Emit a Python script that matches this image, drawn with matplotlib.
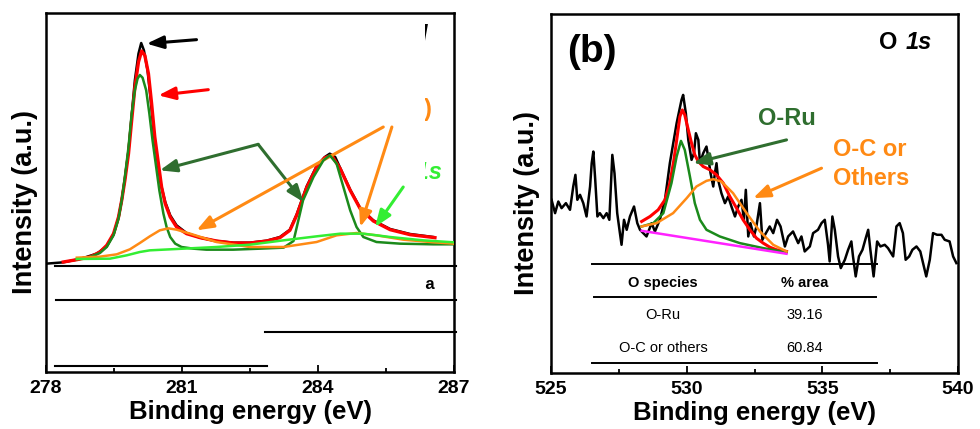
import matplotlib
matplotlib.use("Agg")
import matplotlib.pyplot as plt
from matplotlib.transforms import Bbox, TransformedBbox

plt.rcParams['font.family'] = ['Liberation Sans', 'DejaVu Sans']

# ---------------- panel (a): Ru 3d / C 1s ----------------
ru_raw_x = [278.00, 278.38, 278.75, 279.12, 279.34, 279.49, 279.60, 279.67, 279.74, 279.82,
            279.89, 279.96, 280.04, 280.10, 280.16, 280.24, 280.31, 280.38, 280.46, 280.53,
            280.63, 280.74, 280.88, 281.10, 281.40, 281.76, 282.13, 282.50, 282.87, 283.16,
            283.38, 283.53, 283.75, 283.97, 284.15, 284.26, 284.38, 284.49, 284.71, 284.93,
            285.22, 285.59, 286.03, 286.54]
ru_raw_y = [325, 329, 339, 355, 377, 413, 463, 515, 580, 665,
            770, 875, 955, 987, 965, 905, 815, 715, 635, 565,
            510, 470, 440, 417, 403, 393, 388, 388, 394, 405,
            427, 473, 557, 618, 645, 655, 645, 612, 547, 492,
            455, 429, 414, 405]

ru_fit_x = [278.38, 278.68, 278.97, 279.19, 279.34, 279.49, 279.60, 279.67, 279.74, 279.82,
            279.89, 279.96, 280.04, 280.11, 280.18, 280.26, 280.33, 280.40, 280.48, 280.55,
            280.63, 280.74, 280.88, 281.10, 281.40, 281.76, 282.13, 282.50, 282.87, 283.16,
            283.38, 283.53, 283.75, 283.97, 284.15, 284.30, 284.49, 284.71, 284.93, 285.22,
            285.59, 286.03, 286.58]
ru_fit_y = [330, 337, 345, 360, 380, 415, 465, 515, 575, 655,
            755, 853, 930, 963, 950, 895, 805, 705, 625, 555,
            505, 465, 435, 415, 403, 393, 387, 387, 393, 403,
            425, 470, 553, 615, 643, 650, 610, 545, 490, 453,
            427, 412, 403]

ru_metal_x = [278.68, 278.97, 279.19, 279.34, 279.49, 279.60, 279.67, 279.74, 279.82, 279.89,
              279.96, 280.02, 280.07, 280.13, 280.21, 280.28, 280.35, 280.43, 280.50, 280.59,
              280.66, 280.74, 280.85, 280.99, 281.25, 281.54, 282.13, 282.72, 283.24, 283.46,
              283.67, 283.90, 284.12, 284.26, 284.41, 284.56, 284.71, 284.85, 285.00, 285.29,
              285.81, 286.54, 287.00]
ru_metal_y = [339, 345, 357, 375, 410, 460, 515, 585, 675, 775,
              845, 880, 891, 883, 845, 775, 695, 615, 545, 475,
              435, 405, 385, 375, 370, 367, 367, 370, 373, 393,
              515, 585, 635, 650, 625, 555, 485, 435, 405, 390,
              385, 383, 383]

ru_oxide_x = [278.68, 279.19, 279.56, 279.85, 280.07, 280.29, 280.51, 280.70, 280.88, 281.18,
              281.76, 282.50, 283.24, 283.97, 284.41, 284.85, 285.29, 285.88, 286.47, 287.00]
ru_oxide_y = [343, 346, 353, 368, 387, 407, 425, 431, 427, 415,
              390, 375, 375, 390, 410, 417, 410, 397, 390, 385]

c1s_x = [278.68, 279.41, 279.78, 280.07, 280.29, 281.03, 281.76, 282.50, 283.24, 283.97,
         284.49, 285.00, 285.59, 286.32, 287.00]
c1s_y = [339, 340, 350, 360, 365, 370, 375, 382, 395, 407,
         415, 415, 405, 395, 389]

# ---------------- panel (b): O 1s ----------------
o_raw_x = [525.02, 525.15, 525.27, 525.39, 525.55, 525.70, 525.82, 525.90, 525.97, 526.07,
           526.19, 526.31, 526.44, 526.50, 526.56, 526.63, 526.71, 526.80, 526.93, 527.05,
           527.15, 527.26, 527.34, 527.44, 527.54, 527.60, 527.69, 527.79, 527.91, 528.06,
           528.18, 528.28, 528.40, 528.52, 528.71, 528.83, 529.01, 529.20, 529.38, 529.63,
           529.81, 529.87, 529.97, 530.06, 530.18, 530.27, 530.34, 530.43, 530.49, 530.61,
           530.73, 530.79, 530.88, 530.98, 531.04, 531.10, 531.16, 531.28, 531.41, 531.53,
           531.65, 531.78, 531.90, 532.02, 532.11, 532.18, 532.27, 532.35, 532.48, 532.57,
           532.70, 532.79, 532.92, 533.06, 533.19, 533.33, 533.46, 533.62, 533.74, 533.92,
           534.11, 534.23, 534.35, 534.54, 534.66, 534.84, 534.97, 535.09, 535.21, 535.27,
           535.37, 535.46, 535.58, 535.68, 535.83, 535.95, 536.07, 536.13, 536.23, 536.35,
           536.48, 536.60, 536.69, 536.77, 536.89, 537.02, 537.14, 537.30, 537.42, 537.61,
           537.73, 537.85, 537.97, 538.07, 538.20, 538.32, 538.47, 538.61, 538.83, 538.96,
           539.08, 539.23, 539.39, 539.51, 539.69, 539.82, 539.94]
o_raw_y = [520, 480, 515, 495, 510, 490, 560, 595, 520, 535,
           510, 470, 560, 630, 665, 580, 470, 480, 465, 480,
           460, 655, 600, 480, 420, 385, 460, 430, 470, 500,
           450, 430, 420, 410, 450, 425, 460, 520, 630, 750,
           820, 835, 780, 700, 640, 660, 720, 700, 630, 660,
           680, 650, 600, 560, 600, 630, 580, 540, 510, 530,
           500, 470, 500, 520, 460, 550, 410, 450, 410, 440,
           510, 400, 420, 440, 420, 460, 440, 380, 410, 425,
           390, 410, 365, 380, 420, 430, 450, 460, 385, 335,
           470, 430, 350, 315, 340, 370, 395, 350, 290, 350,
           370, 405, 430, 370, 290, 395, 380, 385, 375, 350,
           440, 450, 420, 340, 350, 370, 380, 365, 290, 340,
           420, 415, 415, 400, 395, 350, 330]

o_fit_x = [528.34, 528.65, 528.95, 529.20, 529.38, 529.53, 529.65, 529.75, 529.84, 529.93,
           530.06, 530.18, 530.30, 530.43, 530.61, 530.86, 531.10, 531.35, 531.59, 531.84,
           532.08, 532.33, 532.57, 532.82, 533.06, 533.31, 533.68]
o_fit_y = [455, 470, 490, 520, 570, 640, 710, 770, 790, 775,
           730, 690, 655, 635, 620, 610, 595, 570, 530, 495,
           460, 430, 405, 390, 378, 370, 365]

o_ru_x = [528.34, 528.77, 529.14, 529.44, 529.63, 529.79, 529.93, 530.12, 530.30, 530.49,
          530.73, 531.22, 531.96, 532.82, 533.68]
o_ru_y = [440, 450, 480, 570, 650, 697, 670, 590, 510, 460,
          430, 410, 390, 375, 362]

o_c_x = [528.34, 528.89, 529.50, 530.00, 530.36, 530.73, 530.98, 531.28, 531.71, 532.21,
         532.70, 533.19, 533.68]
o_c_y = [440, 450, 480, 525, 560, 577, 582, 575, 540, 480,
         425, 385, 365]

o_base_x = [528.34, 533.68]
o_base_y = [427, 358]

o_table_species = ["O-Ru", "O-C or others"]
o_table_area = ["39.16", "60.84"]

RED = '#FF0000'
GREEN = '#1B8A1B'
DKGREEN = '#2F6E2F'
ORANGE = '#FF8A14'
LIME = '#33EE33'
MAGENTA = '#FF22FF'


def arrow(ax, tail, head, color):
    ax.annotate('', xy=head, xytext=tail,
                arrowprops=dict(arrowstyle='-|>,head_length=1.0,head_width=0.38',
                                color=color, lw=2.2, shrinkA=0, shrinkB=0,
                                mutation_scale=10))


def style_axes(ax, xlim, ylim, major, minor, ylab_x):
    ax.set_xlim(*xlim)
    ax.set_ylim(*ylim)
    ax.set_xticks(major)
    ax.set_xticks(minor, minor=True)
    ax.set_yticks([])
    ax.tick_params(axis='x', which='both', direction='in', top=False, width=1.3, pad=6)
    ax.tick_params(axis='x', which='major', length=5)
    ax.tick_params(axis='x', which='minor', length=3)
    for lab in ax.get_xticklabels():
        lab.set_fontsize(14)
        lab.set_fontweight('bold')
    for sp in ax.spines.values():
        sp.set_linewidth(1.8)
    ax.set_xlabel('Binding energy (eV)', fontsize=18.5, fontweight='bold', labelpad=2)
    ax.set_ylabel('Intensity (a.u.)', fontsize=19.5, fontweight='bold')
    ax.yaxis.set_label_coords(ylab_x, 0.474)


fig = plt.figure(figsize=(9.8, 4.29), dpi=100)
ax1 = fig.add_axes([46 / 980, 1 - 372 / 429, 408 / 980, 359 / 429])
ax2 = fig.add_axes([551 / 980, 1 - 373 / 429, 407 / 980, 359 / 429])

# ---- (a) ----
ax1.plot(ru_raw_x, ru_raw_y, color='black', lw=1.8, zorder=2)
ax1.plot(ru_fit_x, ru_fit_y, color=RED, lw=2.4, zorder=3)
ax1.plot(ru_metal_x, ru_metal_y, color=GREEN, lw=1.8, zorder=4)
ax1.plot(ru_oxide_x, ru_oxide_y, color=ORANGE, lw=1.8, zorder=5)
ax1.plot(c1s_x, c1s_y, color=LIME, lw=1.8, zorder=6)
style_axes(ax1, (278, 287), (0, 1077), [278, 281, 284, 287], [279.5, 282.5, 285.5], -0.02)

arrow(ax1, (281.32, 997), (280.22, 985), 'black')
arrow(ax1, (281.58, 847), (280.48, 830), RED)
arrow(ax1, (282.68, 683), (280.51, 605), DKGREEN)
arrow(ax1, (282.68, 683), (283.68, 510), DKGREEN)
arrow(ax1, (285.44, 735), (281.32, 425), ORANGE)
arrow(ax1, (285.63, 735), (284.93, 435), ORANGE)
arrow(ax1, (285.88, 555), (285.26, 435), LIME)

# labels of panel (a): only their right edges are visible
vis = TransformedBbox(Bbox([[0.929, -0.1], [1.0, 1.1]]), ax1.transAxes)
hidden = [
    ("Ru 3d", 0.936, 0.936, 'black', 17, 'italic'),
    ("(RuO2)", 0.947, 0.730, ORANGE, 17, 'normal'),
    ("C 1s", 0.970, 0.557, LIME, 17, 'italic'),
    ("% area", 0.953, 0.245, 'black', 12, 'normal'),
]
for s, x, y, c, fs, st in hidden:
    t = ax1.text(x, y, s, transform=ax1.transAxes, ha='right', va='center', color=c,
                 fontsize=fs, fontweight='bold', fontstyle=st, clip_on=True)
    t.set_clip_box(vis)

# table rules left over in panel (a)
tab_a_rules = [(0.295, 0.022, 1.005), (0.201, 0.025, 1.005),
               (0.111, 0.537, 1.005), (0.017, 0.022, 0.542)]
for y, x0, x1 in tab_a_rules:
    ax1.plot([x0, x1], [y, y], transform=ax1.transAxes, color='black', lw=1.5, clip_on=False)

# ---- (b) ----
ax2.plot(o_raw_x, o_raw_y, color='black', lw=1.8, zorder=2)
ax2.plot(o_fit_x, o_fit_y, color=RED, lw=2.2, zorder=3)
ax2.plot(o_ru_x, o_ru_y, color=GREEN, lw=1.8, zorder=4)
ax2.plot(o_c_x, o_c_y, color=ORANGE, lw=1.8, zorder=5)
ax2.plot(o_base_x, o_base_y, color=MAGENTA, lw=1.8, zorder=4)
style_axes(ax2, (525, 540), (0, 1078), [525, 530, 535, 540], [527.5, 532.5, 537.5], -0.027)

ax2.text(0.039, 0.894, '(b)', transform=ax2.transAxes, ha='left', va='center',
         fontsize=28, fontweight='bold')
t1s = ax2.text(0.936, 0.922, '1s', transform=ax2.transAxes, ha='right', va='center',
               fontsize=17, fontweight='bold', fontstyle='italic')
ax2.annotate('O', xy=(0, 0.5), xycoords=t1s, xytext=(-6, 0), textcoords='offset points',
             ha='right', va='center', fontsize=17, fontweight='bold')

ax2.text(533.70, 765, 'O-Ru', color=DKGREEN, ha='center', va='center',
         fontsize=17, fontweight='bold')
ax2.text(535.39, 628, 'O-C or\nOthers', color=ORANGE, ha='left', va='center',
         fontsize=17, fontweight='bold', linespacing=1.3)
arrow(ax2, (533.68, 700), (530.24, 630), DKGREEN)
arrow(ax2, (534.97, 615), (532.45, 525), ORANGE)

# table in panel (b)
for y, x0, x1 in [(0.304, 0.101, 0.801), (0.212, 0.106, 0.799), (0.028, 0.101, 0.801)]:
    ax2.plot([x0, x1], [y, y], transform=ax2.transAxes, color='black', lw=1.4)
ax2.text(0.275, 0.251, 'O species', transform=ax2.transAxes, ha='center', va='center',
         fontsize=10.5, fontweight='bold')
ax2.text(0.624, 0.251, '% area', transform=ax2.transAxes, ha='center', va='center',
         fontsize=10.5, fontweight='bold')
for i, (sp, ar) in enumerate(zip(o_table_species, o_table_area)):
    yy = 0.162 - i * 0.092
    ax2.text(0.275, yy, sp, transform=ax2.transAxes, ha='center', va='center', fontsize=10.5)
    ax2.text(0.624, yy, ar, transform=ax2.transAxes, ha='center', va='center', fontsize=10.5)

fig.savefig('out.png', dpi=100)
